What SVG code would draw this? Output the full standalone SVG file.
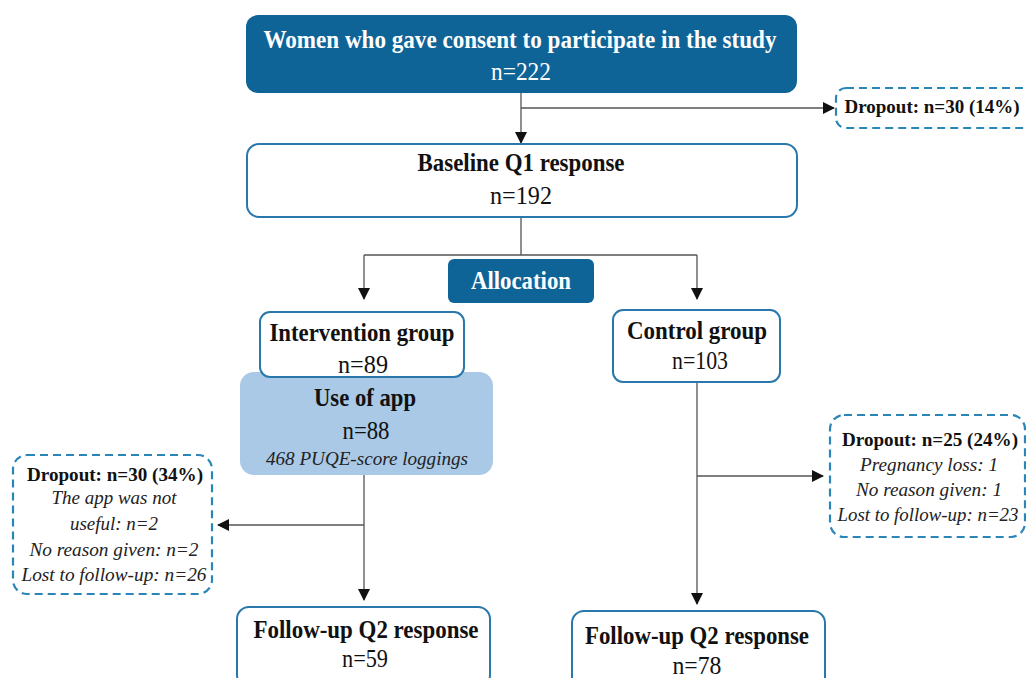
<svg xmlns="http://www.w3.org/2000/svg" width="1026" height="678" viewBox="0 0 1026 678">
<defs>
<marker id="arr" markerUnits="userSpaceOnUse" markerWidth="12" markerHeight="12" refX="11" refY="6" orient="auto">
<path d="M0,0 L12,6 L0,12 z" fill="#111"/>
</marker>
<style>
.dark{fill:#0f6497;}
.box{fill:#fff;stroke:#2a78ab;stroke-width:2;}
.app{fill:#a9c9e7;}
.dash{fill:#fff;stroke:#2a86b8;stroke-width:2.2;stroke-dasharray:8,5;}
.line{fill:none;stroke:#555;stroke-width:1.3;}
text{text-anchor:middle;fill:#111;}
.b{font-weight:bold;font-size:25px;}
.r{font-size:25px;}
.w{fill:#fff;}
.db{font-weight:bold;font-size:18px;}
.it{font-style:italic;font-size:19px;fill:#222;}
</style>
</defs>
<rect width="1026" height="678" fill="#fff"/>

<g id="connectors">
<path class="line" d="M521,93 V143" marker-end="url(#arr)"/>
<path class="line" d="M521,108 H834" marker-end="url(#arr)"/>
<path class="line" d="M521,217 V255 M364,255 H697"/>
<path class="line" d="M364,255 V299" marker-end="url(#arr)"/>
<path class="line" d="M697,255 V299" marker-end="url(#arr)"/>
<path class="line" d="M364,475 V600" marker-end="url(#arr)"/>
<path class="line" d="M364,525 H218" marker-end="url(#arr)"/>
<path class="line" d="M697,382 V604" marker-end="url(#arr)"/>
<path class="line" d="M697,476 H823" marker-end="url(#arr)"/>
</g>

<g font-family="'Liberation Serif', 'Times New Roman', Tinos, serif">
<g id="consent">
<rect class="dark" x="246" y="15" width="551" height="78" rx="12"/>
<text class="b w" x="520" y="48" textLength="513" lengthAdjust="spacingAndGlyphs">Women who gave consent to participate in the study</text>
<text class="r w" x="521" y="80" textLength="60" lengthAdjust="spacingAndGlyphs">n=222</text>
</g>

<g id="dropout-top">
<rect class="dash" x="836" y="88" width="200" height="40" rx="10"/>
<text class="db" x="932" y="113" textLength="175" lengthAdjust="spacingAndGlyphs">Dropout: n=30 (14%)</text>
</g>

<g id="baseline">
<rect class="box" x="247" y="144" width="550" height="73" rx="12"/>
<text class="b" x="521" y="171" textLength="207" lengthAdjust="spacingAndGlyphs">Baseline Q1 response</text>
<text class="r" x="521" y="204" textLength="62" lengthAdjust="spacingAndGlyphs">n=192</text>
</g>

<g id="allocation">
<rect class="dark" x="448" y="259" width="146" height="44" rx="6"/>
<text class="b w" x="521" y="289" textLength="100" lengthAdjust="spacingAndGlyphs">Allocation</text>
</g>

<g id="use-of-app">
<rect class="app" x="240" y="372" width="253" height="103" rx="14"/>
<text class="b" x="365" y="406" textLength="102" lengthAdjust="spacingAndGlyphs">Use of app</text>
<text class="r" x="366" y="439" textLength="47" lengthAdjust="spacingAndGlyphs">n=88</text>
<text class="it" x="367" y="465" textLength="202" lengthAdjust="spacingAndGlyphs">468 PUQE-score loggings</text>
</g>

<g id="intervention">
<rect class="box" x="260" y="312" width="204" height="65" rx="10"/>
<text class="b" x="362" y="341" textLength="185" lengthAdjust="spacingAndGlyphs">Intervention group</text>
<text class="r" x="363" y="373" textLength="50" lengthAdjust="spacingAndGlyphs">n=89</text>
</g>

<g id="control">
<rect class="box" x="613" y="310" width="167" height="72" rx="10"/>
<text class="b" x="697" y="339" textLength="140" lengthAdjust="spacingAndGlyphs">Control group</text>
<text class="r" x="700" y="369" textLength="56" lengthAdjust="spacingAndGlyphs">n=103</text>
</g>

<g id="dropout-intervention">
<rect class="dash" x="13" y="455" width="199" height="139" rx="14"/>
<text class="db" x="115" y="481" textLength="176" lengthAdjust="spacingAndGlyphs">Dropout: n=30 (34%)</text>
<text class="it" x="114" y="504" textLength="125" lengthAdjust="spacingAndGlyphs">The app was not</text>
<text class="it" x="114" y="530" textLength="88" lengthAdjust="spacingAndGlyphs">useful: n=2</text>
<text class="it" x="114" y="556" textLength="169" lengthAdjust="spacingAndGlyphs">No reason given: n=2</text>
<text class="it" x="114" y="581" textLength="185" lengthAdjust="spacingAndGlyphs">Lost to follow-up: n=26</text>
</g>

<g id="dropout-control">
<rect class="dash" x="830" y="415" width="195" height="122" rx="14"/>
<text class="db" x="930" y="446" textLength="176" lengthAdjust="spacingAndGlyphs">Dropout: n=25 (24%)</text>
<text class="it" x="929" y="471" textLength="138" lengthAdjust="spacingAndGlyphs">Pregnancy loss: 1</text>
<text class="it" x="929" y="496" textLength="146" lengthAdjust="spacingAndGlyphs">No reason given: 1</text>
<text class="it" x="928" y="521" textLength="181" lengthAdjust="spacingAndGlyphs">Lost to follow-up: n=23</text>
</g>

<g id="followup-intervention">
<rect class="box" x="237" y="607" width="253" height="80" rx="12"/>
<text class="b" x="366" y="638" textLength="225" lengthAdjust="spacingAndGlyphs">Follow-up Q2 response</text>
<text class="r" x="365" y="667" textLength="46" lengthAdjust="spacingAndGlyphs">n=59</text>
</g>

<g id="followup-control">
<rect class="box" x="572" y="611" width="253" height="80" rx="12"/>
<text class="b" x="697" y="644" textLength="224" lengthAdjust="spacingAndGlyphs">Follow-up Q2 response</text>
<text class="r" x="697" y="674" textLength="49" lengthAdjust="spacingAndGlyphs">n=78</text>
</g>
</g>
</svg>
